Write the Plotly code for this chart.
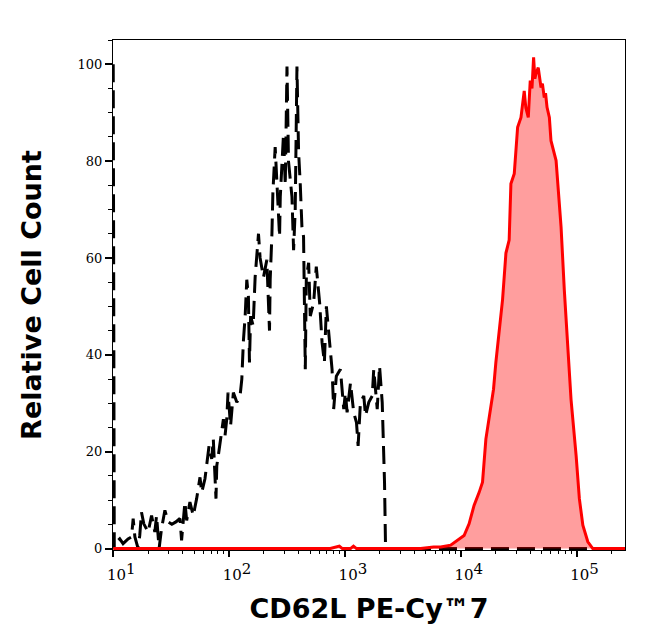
import plotly.graph_objects as go

# Black dashed histogram (isotype/unstained control): decade exponent of x, relative count
black_log10_x = [1.000, 1.009, 1.028, 1.056, 1.085, 1.128, 1.158, 1.172, 1.187, 1.215,
                 1.229, 1.244, 1.264, 1.301, 1.331, 1.359, 1.374, 1.396, 1.417, 1.446,
                 1.474, 1.506, 1.541, 1.576, 1.590, 1.619, 1.634, 1.662, 1.691, 1.720,
                 1.749, 1.764, 1.792, 1.807, 1.827, 1.850, 1.864, 1.887, 1.894, 1.907,
                 1.922, 1.951, 1.965, 1.980, 1.991, 2.003, 2.013, 2.037, 2.067, 2.095,
                 2.110, 2.124, 2.139, 2.153, 2.167, 2.176, 2.186, 2.208, 2.225, 2.254,
                 2.268, 2.297, 2.326, 2.349, 2.355, 2.370, 2.378, 2.398, 2.413, 2.436,
                 2.442, 2.456, 2.470, 2.485, 2.500, 2.513, 2.528, 2.543, 2.557, 2.571,
                 2.586, 2.600, 2.615, 2.629, 2.643, 2.658, 2.667, 2.687, 2.701, 2.730,
                 2.753, 2.782, 2.803, 2.823, 2.840, 2.860, 2.889, 2.903, 2.926, 2.961,
                 2.990, 3.004, 3.019, 3.048, 3.076, 3.100, 3.114, 3.134, 3.163, 3.178,
                 3.206, 3.236, 3.249, 3.279, 3.299, 3.322, 3.331, 3.342, 3.351, 5.418]
black_count = [100, 0, 1.4, 2, 1, 2, 2.4, 6.2, 2.4, 0,
               2.7, 7.5, 5.1, 3.4, 6.8, 3.4, 6.8, 0, 4.1, 7.9,
               5.5, 5, 5.5, 6.2, 1.7, 9.6, 5.8, 9.6, 6.8, 10.3,
               14.7, 11.6, 14.4, 17.1, 21.2, 18.5, 22.6, 10.3, 17.1, 19.2,
               21.9, 26.7, 23.3, 26.7, 32.2, 28.1, 25.3, 32.2, 30.2, 31.5,
               35, 43, 48, 55.5, 52, 38.4, 48, 46, 56, 65,
               60, 56, 59.6, 45, 55.5, 65, 73.3, 82.9, 75.3, 64.4,
               72.6, 80, 85.6, 75, 99.5, 80, 76.7, 72.6, 61.6, 69.9,
               99.5, 82, 75, 66.4, 64.4, 37, 56, 59, 48, 50.7,
               58.2, 50.7, 42.5, 38.4, 50, 45.2, 37, 28.8, 35.6, 37,
               28.8, 32.2, 28.1, 34.2, 28.1, 26, 21.2, 30.2, 31.5, 27.4,
               30.2, 31.5, 37, 28.8, 37.7, 30.2, 22.6, 13.7, 0, 0]

# Red filled histogram (CD62L PE-Cy7 stained)
red_log10_x = [1.000, 2.874, 2.952, 2.978, 3.048, 3.074, 3.100, 3.654, 3.766, 3.827,
               3.913, 3.971, 4.029, 4.072, 4.115, 4.159, 4.188, 4.217, 4.254, 4.283,
               4.303, 4.332, 4.361, 4.390, 4.418, 4.433, 4.462, 4.491, 4.520, 4.548,
               4.562, 4.583, 4.600, 4.615, 4.629, 4.640, 4.649, 4.669, 4.693, 4.705,
               4.721, 4.732, 4.745, 4.765, 4.779, 4.823, 4.866, 4.894, 4.924, 4.952,
               4.996, 5.024, 5.054, 5.097, 5.140, 5.418]
red_count = [0, 0, 0.5, 0, 0, 0.5, 0, 0, 0.3, 0.3,
             0.7, 1.7, 2.7, 5.1, 8.9, 11.6, 13.7, 22.6, 28.8, 32.9,
             38.4, 44.5, 51.4, 61, 63.7, 75.3, 77.4, 87, 89, 94.5,
             91, 89, 96.6, 95, 101.4, 97, 98, 99.3, 95.2, 96,
             93.1, 94, 91.1, 89, 84.2, 80.1, 66.4, 53.4, 41.8, 30.8,
             19.2, 10.3, 4.8, 1.4, 0, 0]

x_tick_vals = [10, 100, 1000, 10000, 100000]
x_tick_text = ["10<sup><span style='font-size:15px'>1</span></sup>",
               "10<sup><span style='font-size:15px'>2</span></sup>",
               "10<sup><span style='font-size:15px'>3</span></sup>",
               "10<sup><span style='font-size:15px'>4</span></sup>",
               "10<sup><span style='font-size:15px'>5</span></sup>"]
x_minor_vals = [m * 10 ** d for d in range(1, 6) for m in range(2, 10)]
y_tick_vals = [0, 20, 40, 60, 80, 100]

fig = go.Figure()
fig.add_trace(go.Scatter(
    x=[10 ** v for v in black_log10_x], y=black_count, mode="lines",
    line=dict(color="black", width=3, dash="18px,8px"), showlegend=False,
    hoverinfo="skip"))
fig.add_trace(go.Scatter(
    x=[10 ** v for v in red_log10_x], y=red_count, mode="lines",
    line=dict(color="#ff0000", width=3), fill="tozeroy",
    fillcolor="rgba(255,0,0,0.38)", showlegend=False, hoverinfo="skip"))

fig.update_layout(
    width=630, height=625,
    margin=dict(l=105, r=13, t=32, b=83),
    paper_bgcolor="white", plot_bgcolor="white",
)
fig.update_xaxes(
    type="log", range=[0.998, 5.418],
    tickmode="array", tickvals=x_tick_vals, ticktext=x_tick_text,
    ticks="outside", ticklen=6, tickwidth=2, tickcolor="black",
    ticklabelshift=8, ticklabelstandoff=5,
    minor=dict(tickmode="array", tickvals=x_minor_vals, ticks="outside",
               ticklen=3, tickwidth=1, tickcolor="black", showgrid=False),
    showline=True, linecolor="black", linewidth=1, mirror=True,
    showgrid=False, zeroline=False,
    tickfont=dict(family="DejaVu Serif", size=15, color="black"),
    title=dict(text="CD62L PE-Cy™7", standoff=16,
               font=dict(family="DejaVu Sans", size=27, color="black", weight="bold")),
)
fig.update_yaxes(
    range=[-0.3, 105],
    tickmode="array", tickvals=y_tick_vals,
    ticks="outside", ticklen=7, tickwidth=2, tickcolor="black",
    minor=dict(dtick=5, ticks="outside", ticklen=4, tickwidth=1,
               tickcolor="black", showgrid=False),
    showline=True, linecolor="black", linewidth=1, mirror=True,
    showgrid=False, zeroline=False,
    tickfont=dict(family="DejaVu Serif", size=13, color="black"),
    title=dict(text="Relative Cell Count", standoff=28,
               font=dict(family="DejaVu Sans", size=27, color="black", weight="bold")),
)

fig.write_html("out.html")
